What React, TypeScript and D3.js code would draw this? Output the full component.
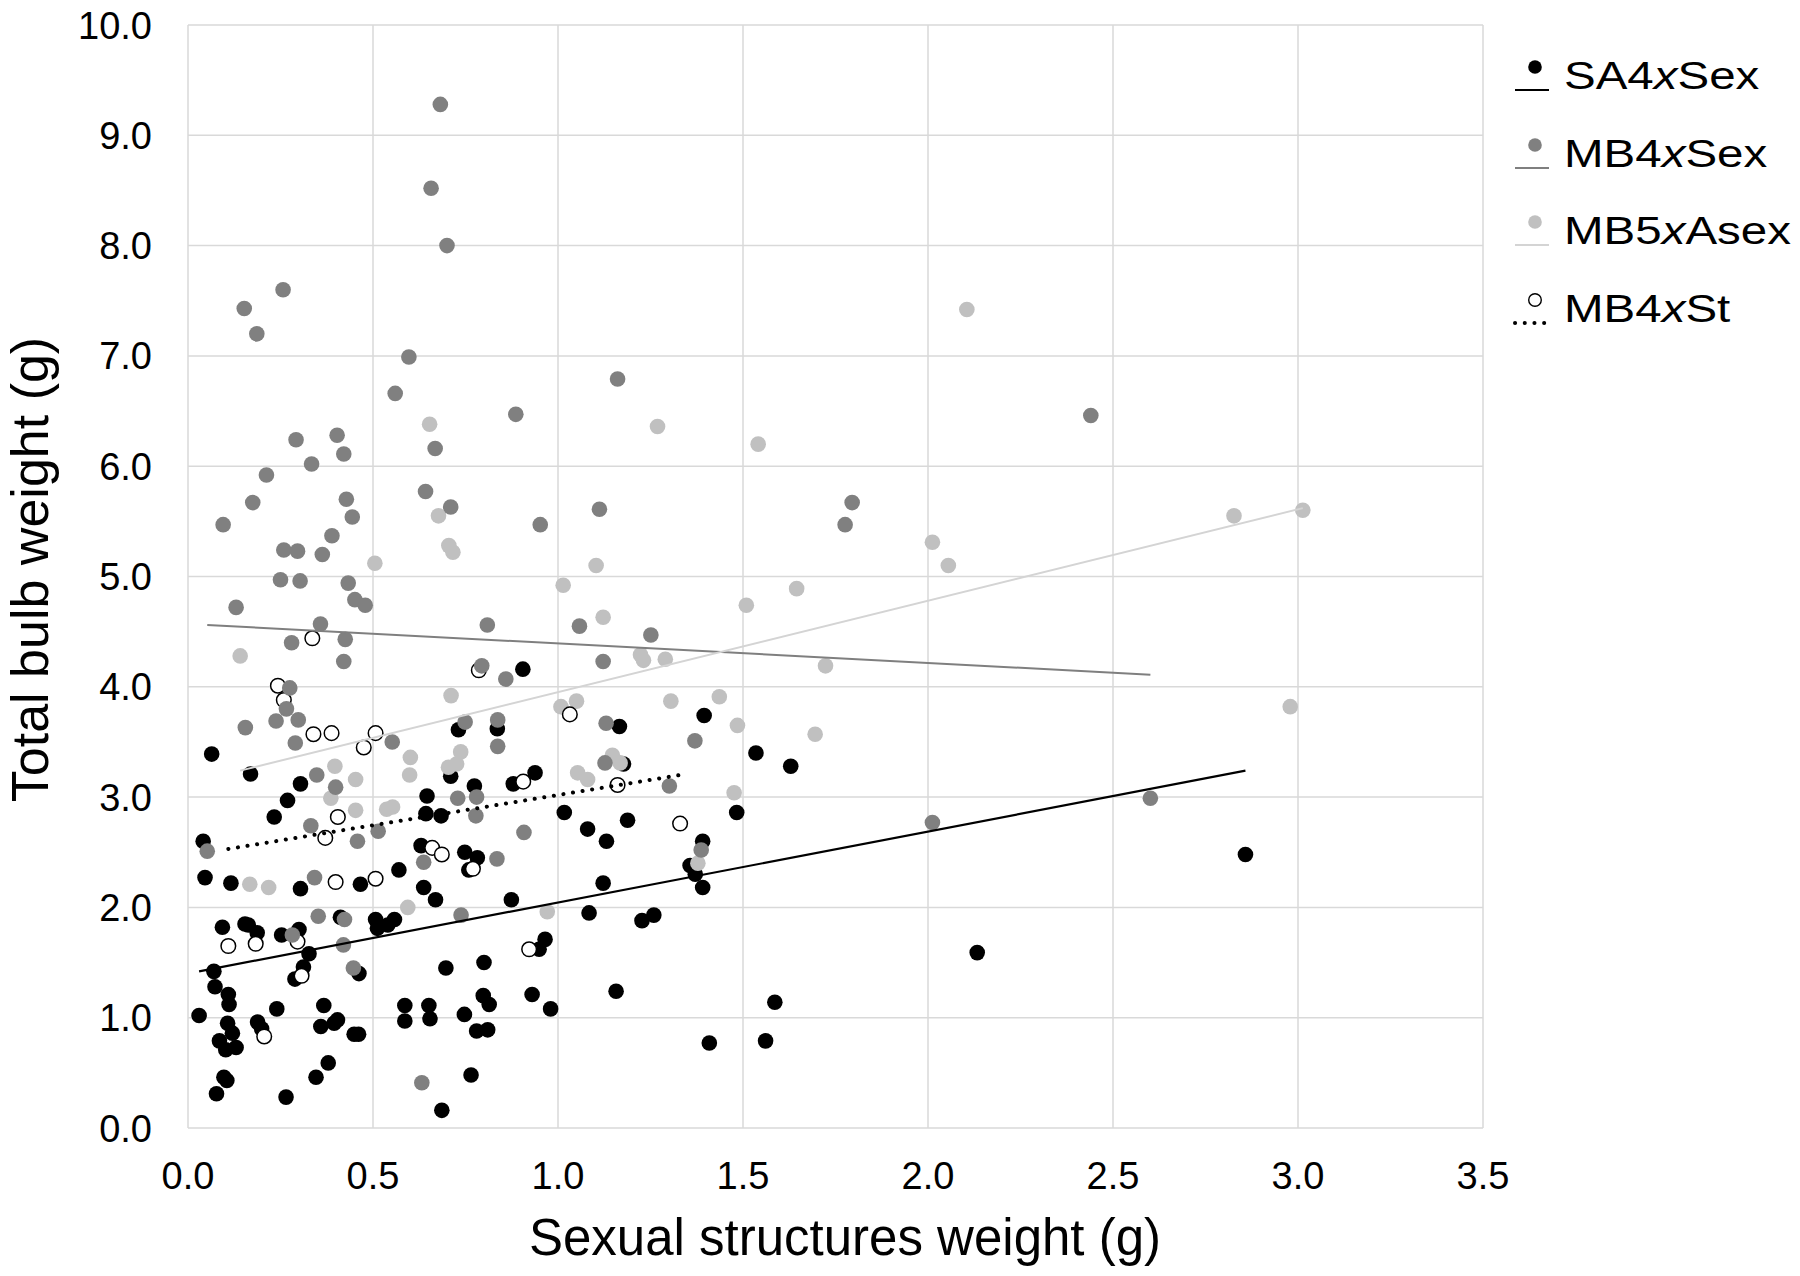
import React from "react";
import * as d3 from "d3";

// ---------- data ----------
const xTicks = [0, 0.5, 1, 1.5, 2, 2.5, 3, 3.5];
const xTickLabels = ["0.0", "0.5", "1.0", "1.5", "2.0", "2.5", "3.0", "3.5"];
const yTicks = [0, 1, 2, 3, 4, 5, 6, 7, 8, 9, 10];
const yTickLabels = ["0.0", "1.0", "2.0", "3.0", "4.0", "5.0", "6.0", "7.0", "8.0", "9.0", "10.0"];

const xTitle = "Sexual structures weight (g)";
const yTitle = "Total bulb weight (g)";

// legend label parts: prefix, italic "x", suffix
const legendPrefix = ["SA4", "MB4", "MB5", "MB4"];
const legendSuffix = ["Sex", "Sex", "Asex", "St"];

// SA4xSex (black)
const sa4xSex: [number, number][] = [
  [0.731, 3.61], [0.836, 3.62], [0.064, 3.39], [0.169, 3.21], [0.710, 3.19], [0.304, 3.12],
  [0.269, 2.97], [0.233, 2.82], [0.646, 3.01], [0.643, 2.85], [0.684, 2.83], [0.774, 3.10],
  [0.879, 3.12], [0.938, 3.22], [1.017, 2.86], [0.041, 2.60], [0.630, 2.56], [0.748, 2.50],
  [0.782, 2.45], [0.759, 2.34], [0.046, 2.27], [0.116, 2.22], [0.304, 2.17], [0.466, 2.21],
  [0.570, 2.34], [0.637, 2.18], [0.669, 2.07], [0.874, 2.07], [0.905, 4.16],
  [1.166, 3.64], [1.395, 3.74], [1.535, 3.40], [1.629, 3.28], [1.177, 3.30], [1.080, 2.71],
  [1.188, 2.79], [1.131, 2.60], [1.483, 2.86], [1.391, 2.60], [1.357, 2.38], [1.371, 2.30],
  [1.391, 2.18], [1.122, 2.22],
  [0.093, 1.82], [0.154, 1.85], [0.163, 1.84], [0.187, 1.77], [0.253, 1.75], [0.300, 1.80],
  [0.412, 1.91], [0.327, 1.58], [0.312, 1.46], [0.289, 1.35], [0.462, 1.40], [0.507, 1.89],
  [0.512, 1.81], [0.540, 1.84], [0.558, 1.89], [0.697, 1.45], [0.800, 1.50], [0.949, 1.62],
  [0.965, 1.71], [0.070, 1.42], [0.073, 1.28], [0.109, 1.21], [0.111, 1.12], [0.030, 1.02],
  [0.240, 1.08], [0.367, 1.11], [0.107, 0.95], [0.120, 0.86], [0.188, 0.96], [0.199, 0.90],
  [0.085, 0.79], [0.102, 0.71], [0.130, 0.73], [0.359, 0.92], [0.395, 0.95], [0.404, 0.98],
  [0.449, 0.85], [0.461, 0.85], [0.586, 1.11], [0.586, 0.97], [0.651, 1.11], [0.654, 0.99],
  [0.747, 1.03], [0.798, 1.20], [0.814, 1.12], [0.780, 0.88], [0.810, 0.89], [0.930, 1.21],
  [0.980, 1.08], [0.379, 0.59], [0.346, 0.46], [0.097, 0.46], [0.105, 0.43], [0.077, 0.31],
  [0.265, 0.28], [0.765, 0.48], [0.686, 0.16],
  [1.084, 1.95], [1.227, 1.88], [1.259, 1.93], [1.157, 1.24], [1.586, 1.14], [1.409, 0.77],
  [1.561, 0.79], [2.858, 2.48], [2.133, 1.59],
];

// MB4xSex (dark grey)
const mb4xSex: [number, number][] = [
  [0.682, 9.28], [0.657, 8.52], [0.700, 8.00], [0.257, 7.60], [0.152, 7.43], [0.186, 7.20],
  [0.597, 6.99], [0.560, 6.66], [0.886, 6.47], [0.292, 6.24], [0.403, 6.28], [0.421, 6.11],
  [0.668, 6.16], [0.334, 6.02], [0.212, 5.92], [0.428, 5.70], [0.175, 5.67], [0.642, 5.77],
  [0.710, 5.63], [0.444, 5.54], [0.095, 5.47], [0.952, 5.47], [0.389, 5.37], [0.259, 5.24],
  [0.296, 5.23], [0.363, 5.20], [0.250, 4.97], [0.303, 4.96], [0.433, 4.94], [0.130, 4.72],
  [0.451, 4.79], [0.479, 4.74], [0.358, 4.57], [0.809, 4.56], [1.058, 4.55],
  [1.161, 6.79], [1.112, 5.61], [1.795, 5.67], [1.776, 5.47],
  [0.280, 4.40], [0.425, 4.43], [0.421, 4.23], [0.794, 4.19], [0.859, 4.07], [0.275, 3.99],
  [0.266, 3.80], [0.155, 3.63], [0.238, 3.69], [0.298, 3.70], [0.290, 3.49], [0.552, 3.50],
  [0.749, 3.68], [0.837, 3.70], [0.837, 3.46], [0.348, 3.20], [0.399, 3.09], [0.332, 2.74],
  [0.458, 2.60], [0.514, 2.69], [0.729, 2.99], [0.780, 3.00], [0.778, 2.83], [0.908, 2.68],
  [0.052, 2.51], [0.637, 2.41], [0.835, 2.44], [0.342, 2.27],
  [1.251, 4.47], [1.122, 4.23], [1.130, 3.67], [1.370, 3.51], [1.127, 3.31], [1.301, 3.10],
  [1.387, 2.52],
  [0.282, 1.75], [0.352, 1.92], [0.423, 1.89], [0.420, 1.66], [0.447, 1.45], [0.738, 1.93],
  [0.632, 0.41],
  [2.440, 6.46], [2.601, 2.99], [2.012, 2.77],
];

// MB5xAsex (light grey)
const mb5xAsex: [number, number][] = [
  [0.653, 6.38], [0.677, 5.55], [0.705, 5.28], [0.716, 5.22], [0.505, 5.12], [1.014, 4.92],
  [1.269, 6.36], [1.541, 6.20], [1.103, 5.10], [1.645, 4.89], [1.509, 4.74], [1.122, 4.63],
  [0.141, 4.28], [0.711, 3.92], [1.008, 3.82], [1.050, 3.87], [0.601, 3.36], [0.599, 3.20],
  [0.737, 3.41], [0.704, 3.27], [0.726, 3.30], [0.397, 3.28], [0.453, 3.16], [0.386, 2.99],
  [0.453, 2.88], [0.537, 2.89], [0.553, 2.91], [0.167, 2.21], [0.218, 2.18], [0.594, 2.00],
  [0.971, 1.96],
  [1.223, 4.29], [1.231, 4.24], [1.290, 4.25], [1.723, 4.19], [1.305, 3.87], [1.436, 3.91],
  [1.485, 3.65], [1.695, 3.57], [1.147, 3.38], [1.168, 3.31], [1.053, 3.22], [1.080, 3.16],
  [1.476, 3.04], [1.378, 2.40],
  [2.105, 7.42], [2.827, 5.55], [3.013, 5.60], [2.012, 5.31], [2.055, 5.10], [2.979, 3.82],
];

// MB4xSt (open circles)
const mb4xSt: [number, number][] = [
  [0.336, 4.44], [0.786, 4.15], [0.243, 4.01], [0.259, 3.88], [1.032, 3.75], [0.339, 3.57],
  [0.388, 3.58], [0.507, 3.58], [0.475, 3.45], [0.405, 2.82], [0.371, 2.63], [0.906, 3.14],
  [0.660, 2.54], [0.686, 2.48], [0.770, 2.35], [0.399, 2.23], [0.507, 2.26], [1.161, 3.11],
  [1.330, 2.76], [0.109, 1.65], [0.183, 1.67], [0.296, 1.69], [0.307, 1.38], [0.922, 1.62],
  [0.206, 0.83],
];

// linear trend lines (start / end x, start / end y) per series
const trendX0 = [0.030, 0.052, 0.141, 0.109];
const trendX1 = [2.858, 2.601, 3.013, 1.330];
const trendY0 = [1.42, 4.56, 3.24, 2.53];
const trendY1 = [3.24, 4.11, 5.62, 3.20];

// ---------- chart ----------
const W = 1800;
const H = 1276;
const FONT = "'Liberation Sans', Arial, Helvetica, sans-serif";

export default function App() {
  const x = d3.scaleLinear().domain([0, 3.5]).range([188, 1483]);
  const y = d3.scaleLinear().domain([0, 10]).range([1128, 25]);
  const line = d3.line<[number, number]>().x((d) => x(d[0])).y((d) => y(d[1]));

  const seriesData = [sa4xSex, mb4xSex, mb5xAsex, mb4xSt];
  const markerFill = ["#000000", "#808080", "#c0c0c0", "#ffffff"];
  const markerStroke = ["none", "none", "none", "#000000"];
  const lineColor = ["#000000", "#7f7f7f", "#d4d4d4", "#000000"];
  const lineWidth = [2.2, 2, 2, 4];
  const lineDash = [undefined, undefined, undefined, "0.1 9.6"];
  const drawOrder = [0, 2, 3, 1];

  const gridColor = "#d9d9d9";
  const legendY = [89, 167, 244, 322];

  return (
    <svg
      width={W}
      height={H}
      style={{ position: "absolute", left: 0, top: 0, background: "#fff" }}
      fontFamily={FONT}
    >
      <rect x={0} y={0} width={W} height={H} fill="#ffffff" />
      {/* gridlines */}
      {yTicks.map((t) => (
        <line key={"gy" + t} x1={x(0)} x2={x(3.5)} y1={y(t)} y2={y(t)} stroke={gridColor} strokeWidth={1.5} />
      ))}
      {xTicks.map((t) => (
        <line key={"gx" + t} x1={x(t)} x2={x(t)} y1={y(0)} y2={y(10)} stroke={gridColor} strokeWidth={1.5} />
      ))}

      {/* tick labels */}
      {yTicks.map((t, i) => (
        <text key={"ty" + t} x={152} y={y(t) + 13.5} textAnchor="end" fontSize={38} fill="#000">
          {yTickLabels[i]}
        </text>
      ))}
      {xTicks.map((t, i) => (
        <text key={"tx" + t} x={x(t)} y={1189} textAnchor="middle" fontSize={38} fill="#000">
          {xTickLabels[i]}
        </text>
      ))}

      {/* axis titles */}
      <text x={845} y={1255} textAnchor="middle" fontSize={51} fill="#000">
        {xTitle}
      </text>
      <text
        transform={`translate(48, ${(333 + 806) / 2}) rotate(-90)`}
        textAnchor="middle"
        fontSize={52}
        fill="#000"
      >
        {yTitle}
      </text>

      {/* points */}
      {drawOrder.map((s) => (
        <g key={"s" + s}>
          {seriesData[s].map((d, i) => (
            <circle
              key={i}
              cx={x(d[0])}
              cy={y(d[1])}
              r={s === 3 ? 7.3 : 7.8}
              fill={markerFill[s]}
              stroke={markerStroke[s]}
              strokeWidth={s === 3 ? 1.5 : 0}
            />
          ))}
        </g>
      ))}

      {/* trend lines */}
      {[0, 1, 2, 3].map((s) => (
        <path
          key={"tl" + s}
          d={line([
            [trendX0[s], trendY0[s]],
            [trendX1[s], trendY1[s]],
          ]) as string}
          fill="none"
          stroke={lineColor[s]}
          strokeWidth={lineWidth[s]}
          strokeDasharray={lineDash[s]}
          strokeLinecap={s === 3 ? "round" : "butt"}
        />
      ))}

      {/* legend */}
      {[0, 1, 2, 3].map((s) => (
        <g key={"lg" + s}>
          <line
            x1={1515}
            x2={1549}
            y1={legendY[s] + 1}
            y2={legendY[s] + 1}
            stroke={lineColor[s]}
            strokeWidth={s === 3 ? 4 : 2}
            strokeDasharray={lineDash[s]}
            strokeLinecap={s === 3 ? "round" : "butt"}
          />
          <circle
            cx={1535}
            cy={legendY[s] - 22}
            r={s === 3 ? 6.3 : 6.8}
            fill={markerFill[s]}
            stroke={markerStroke[s]}
            strokeWidth={s === 3 ? 1.4 : 0}
          />
          <text
            transform={`translate(1564, ${legendY[s]}) scale(1.25, 1)`}
            fontSize={38}
            fill="#000"
          >
            {legendPrefix[s]}
            <tspan fontStyle="italic">x</tspan>
            {legendSuffix[s]}
          </text>
        </g>
      ))}
    </svg>
  );
}
